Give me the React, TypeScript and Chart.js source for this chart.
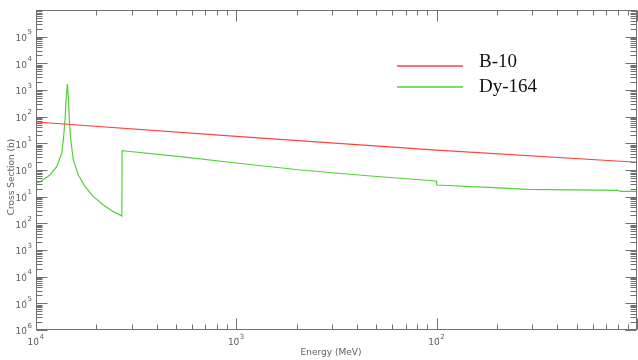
import React, { useEffect, useRef } from "react";
import { Chart, registerables } from "chart.js";

Chart.register(...registerables);

// B-10 cross section (MeV, barns)
const b10Energy = [1e-4, 1e-3, 1e-2, 1e-1];
const b10Sigma = [63, 18.2, 5.6, 1.95];

// Dy-164 cross section (MeV, barns)
const dyEnergy = [
  1.0e-4, 1.047e-4, 1.175e-4, 1.269e-4, 1.344e-4, 1.369e-4, 1.396e-4, 1.413e-4,
  1.434e-4, 1.45e-4, 1.467e-4, 1.491e-4, 1.536e-4, 1.627e-4, 1.758e-4, 1.934e-4,
  2.17e-4, 2.434e-4, 2.683e-4, 2.69e-4, 2.786e-4, 5.25e-4, 1.0e-3, 2.09e-3,
  4.68e-3, 9.95e-3, 1.0e-2, 1.93e-2, 2.85e-2, 8.04e-2, 8.3e-2, 1.0e-1,
];
const dySigma = [
  0.326, 0.365, 0.65, 1.33, 4.24, 13.4, 75, 422,
  1680, 561, 75, 13.4, 2.38, 0.65, 0.237, 0.1,
  0.0488, 0.0274, 0.0189, 5.3, 5.16, 3.16, 1.83, 1.0,
  0.597, 0.387, 0.274, 0.217, 0.189, 0.173, 0.159, 0.159,
];

const seriesLabels = ["B-10", "Dy-164"];
const seriesColors = ["#ff4040", "#55d03a"];

const xTickExponents = [-4, -3, -2];
const yTickExponents = [-6, -5, -4, -3, -2, -1, 0, 1, 2, 3, 4, 5];
const xAxisTitle = "Energy (MeV)";
const yAxisTitle = "Cross Section (b)";

const X_MIN = 1e-4;
const X_MAX = 1e-1;
const Y_MIN = 1e-6;
const Y_MAX = 1e6;

const axisPlugin = {
  id: "customAxes",
  afterDraw(chart: any) {
    const ctx = chart.ctx as CanvasRenderingContext2D;
    const { left, right, top, bottom } = chart.chartArea;
    const xs = chart.scales.x;
    const ys = chart.scales.y;
    ctx.save();
    const L = Math.round(left) + 0.5;
    const R = Math.round(right) - 0.5;
    const T = Math.round(top) + 0.5;
    const B = Math.round(bottom) - 0.5;
    ctx.strokeStyle = "#707070";
    ctx.lineWidth = 1;
    ctx.strokeRect(L, T, R - L, B - T);

    // ticks
    ctx.beginPath();
    const xlo = Math.round(Math.log10(X_MIN));
    const xhi = Math.round(Math.log10(X_MAX));
    for (let e = xlo; e <= xhi; e++) {
      for (let m = 1; m <= 9; m++) {
        const v = m * Math.pow(10, e);
        if (v < X_MIN * 0.999 || v > X_MAX * 1.001) continue;
        const px = Math.round(xs.getPixelForValue(v)) + 0.5;
        const len = m === 1 ? 11 : 5;
        ctx.moveTo(px, B);
        ctx.lineTo(px, B - len);
        ctx.moveTo(px, T);
        ctx.lineTo(px, T + len);
      }
    }
    const ylo = Math.round(Math.log10(Y_MIN));
    const yhi = Math.round(Math.log10(Y_MAX));
    for (let e = ylo; e <= yhi; e++) {
      for (let m = 1; m <= 9; m++) {
        const v = m * Math.pow(10, e);
        if (v < Y_MIN * 0.999 || v > Y_MAX * 1.001) continue;
        const py = Math.round(ys.getPixelForValue(v)) + 0.5;
        const len = m === 1 ? 11 : 6;
        ctx.moveTo(L, py);
        ctx.lineTo(L + len, py);
        ctx.moveTo(R, py);
        ctx.lineTo(R - len, py);
      }
    }
    ctx.stroke();

    // tick labels
    ctx.fillStyle = "#606060";
    const baseFont = "9px 'DejaVu Sans'";
    const expFont = "7px 'DejaVu Sans'";
    const drawPow = (xRight: number, yMid: number, exp: number) => {
      ctx.font = baseFont;
      ctx.textAlign = "right";
      ctx.textBaseline = "middle";
      ctx.fillText("10", xRight, yMid);
      ctx.font = expFont;
      ctx.textAlign = "left";
      ctx.fillText(String(Math.abs(exp)), xRight + 0.5, yMid - 6);
      if (exp < 0) {
        ctx.textAlign = "right";
        ctx.fillText("-", xRight - 0.5, yMid - 5);
      }
    };
    for (const e of yTickExponents) {
      const py = ys.getPixelForValue(Math.pow(10, e));
      drawPow(27, py + 2, e);
    }
    for (const e of xTickExponents) {
      const px = xs.getPixelForValue(Math.pow(10, e));
      drawPow(px + 3, 343, e);
    }

    // axis titles
    ctx.fillStyle = "#606060";
    ctx.font = "9px 'DejaVu Sans'";
    ctx.textAlign = "center";
    ctx.textBaseline = "middle";
    ctx.fillText(xAxisTitle, 331, 353);
    ctx.save();
    ctx.translate(12, 177);
    ctx.rotate(-Math.PI / 2);
    ctx.fillText(yAxisTitle, 0, 0);
    ctx.restore();

    // legend
    const legendY = [66, 87];
    chart.data.datasets.forEach((ds: any, i: number) => {
      ctx.strokeStyle = ds.borderColor;
      ctx.lineWidth = 1.5;
      ctx.beginPath();
      ctx.moveTo(397, legendY[i]);
      ctx.lineTo(463, legendY[i]);
      ctx.stroke();
      ctx.fillStyle = "#111";
      ctx.font = "19px 'Liberation Serif'";
      ctx.textAlign = "left";
      ctx.textBaseline = "alphabetic";
      ctx.fillText(ds.label, 479, legendY[i] + 1 + (i === 0 ? 0 : 4));
    });
    ctx.restore();
  },
};

export default function App() {
  const canvasRef = useRef<HTMLCanvasElement | null>(null);

  useEffect(() => {
    document.body.style.margin = "0";
    const canvas = canvasRef.current;
    if (!canvas) return;
    const chart = new Chart(canvas, {
      type: "line",
      data: {
        datasets: [
          {
            label: seriesLabels[0],
            data: b10Energy.map((x, i) => ({ x, y: b10Sigma[i] })),
            borderColor: seriesColors[0],
            borderWidth: 1.2,
            pointRadius: 0,
            tension: 0,
          },
          {
            label: seriesLabels[1],
            data: dyEnergy.map((x, i) => ({ x, y: dySigma[i] })),
            borderColor: seriesColors[1],
            borderWidth: 1.2,
            pointRadius: 0,
            tension: 0,
          },
        ],
      },
      options: {
        animation: false,
        responsive: false,
        devicePixelRatio: 1,
        layout: { padding: { left: 36, right: 1, top: 10, bottom: 30 } },
        plugins: { legend: { display: false }, tooltip: { enabled: false } },
        scales: {
          x: { type: "logarithmic", min: X_MIN, max: X_MAX, display: false },
          y: { type: "logarithmic", min: Y_MIN, max: Y_MAX, display: false },
        },
      },
      plugins: [axisPlugin],
    });
    return () => chart.destroy();
  }, []);

  return (
    <div style={{ position: "absolute", left: 0, top: 0, width: 638, height: 360, background: "#fff" }}>
      <canvas ref={canvasRef} width={638} height={360} style={{ width: 638, height: 360 }} />
    </div>
  );
}
